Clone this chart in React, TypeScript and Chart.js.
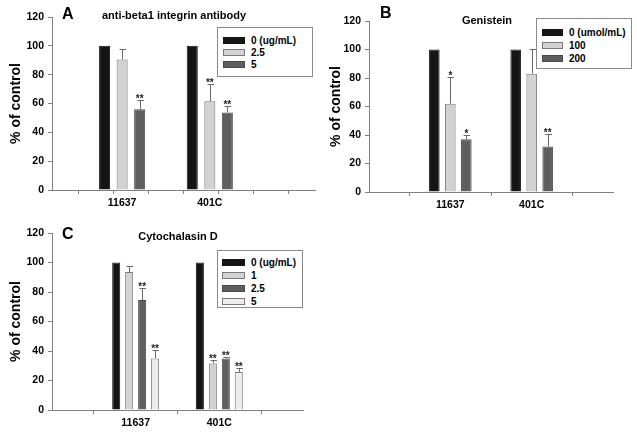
import React, { useEffect, useRef } from "react";
import { Chart, registerables } from "chart.js";

Chart.register(...registerables);

const FONT = "'Liberation Sans', Arial, Helvetica, sans-serif";

// ---------- shared ----------
const groups = ["11637", "401C"];
const yMax = 120;
const yStep = 20;
const yAxisTitle = "% of control";

// ---------- Panel A ----------
const aLetter = "A";
const aTitle = "anti-beta1 integrin antibody";
const aLabels = ["0 (ug/mL)", "2.5", "5"];
const aControl = [100, 100];
const aDose25 = [90.5, 61.5];
const aDose5 = [56, 53.8];
const aErr25 = [7, 12];
const aErr5 = [6.3, 4.4];
const aSig25 = ["", "**"];
const aSig5 = ["**", "**"];

// ---------- Panel B ----------
const bLetter = "B";
const bTitle = "Genistein";
const bLabels = ["0 (umol/mL)", "100", "200"];
const bControl = [100, 100];
const bDose100 = [62, 83];
const bDose200 = [37, 32];
const bErr100 = [19, 17];
const bErr200 = [3.3, 8.6];
const bSig100 = ["*", ""];
const bSig200 = ["*", "**"];

// ---------- Panel C ----------
const cLetter = "C";
const cTitle = "Cytochalasin D";
const cLabels = ["0 (ug/mL)", "1", "2.5", "5"];
const cControl = [100, 100];
const cDose1 = [93.5, 31.5];
const cDose25 = [74.5, 35];
const cDose5 = [35, 25.8];
const cErr1 = [4, 2.3];
const cErr25 = [8, 0.8];
const cErr5 = [6, 3];
const cSig1 = ["", "**"];
const cSig25 = ["**", "**"];
const cSig5 = ["**", "**"];

// ---------- colours ----------
const BLACK = "#151515";
const LIGHT = "#d2d2d2";
const DARK = "#5f5f5f";
const PALE = "#ececec";
const EDGE = "#7a7a7a";
const AXIS = "#808080";

type SeriesDef = {
  label: string;
  values: number[];
  errors?: number[];
  sig?: string[];
  fill: string;
  stroke: string;
};

const seriesA: SeriesDef[] = [
  { label: aLabels[0], values: aControl, fill: BLACK, stroke: BLACK },
  { label: aLabels[1], values: aDose25, errors: aErr25, sig: aSig25, fill: LIGHT, stroke: EDGE },
  { label: aLabels[2], values: aDose5, errors: aErr5, sig: aSig5, fill: DARK, stroke: "#4a4a4a" },
];
const seriesB: SeriesDef[] = [
  { label: bLabels[0], values: bControl, fill: BLACK, stroke: BLACK },
  { label: bLabels[1], values: bDose100, errors: bErr100, sig: bSig100, fill: LIGHT, stroke: EDGE },
  { label: bLabels[2], values: bDose200, errors: bErr200, sig: bSig200, fill: DARK, stroke: "#4a4a4a" },
];
const seriesC: SeriesDef[] = [
  { label: cLabels[0], values: cControl, fill: BLACK, stroke: BLACK },
  { label: cLabels[1], values: cDose1, errors: cErr1, sig: cSig1, fill: LIGHT, stroke: EDGE },
  { label: cLabels[2], values: cDose25, errors: cErr25, sig: cSig25, fill: DARK, stroke: "#4a4a4a" },
  { label: cLabels[3], values: cDose5, errors: cErr5, sig: cSig5, fill: PALE, stroke: EDGE },
];

// place the group values onto the slots of the category axis
function spread<T>(vals: T[] | undefined, slots: number, pos: number[], empty: T): T[] | undefined {
  if (!vals) return undefined;
  const out: T[] = new Array(slots).fill(empty);
  pos.forEach((p, i) => {
    out[p] = vals[i];
  });
  return out;
}

const errorBarPlugin = {
  id: "errorBars",
  afterDatasetsDraw(chart: any) {
    const ctx = chart.ctx;
    const yScale = chart.scales.y;
    chart.data.datasets.forEach((ds: any, di: number) => {
      if (!ds.errors && !ds.sig) return;
      const meta = chart.getDatasetMeta(di);
      meta.data.forEach((el: any, i: number) => {
        const v = ds.data[i];
        if (v == null) return;
        const e = ds.errors ? ds.errors[i] : null;
        let top = el.y;
        const x = Math.round(el.x) + 0.5;
        if (e != null && e > 0) {
          const yTop = Math.round(yScale.getPixelForValue(v + e)) + 0.5;
          ctx.save();
          ctx.strokeStyle = "#6a6a6a";
          ctx.lineWidth = 1;
          ctx.beginPath();
          ctx.moveTo(x, el.y);
          ctx.lineTo(x, yTop);
          ctx.moveTo(x - 3, yTop);
          ctx.lineTo(x + 3.5, yTop);
          ctx.stroke();
          ctx.restore();
          top = yTop;
        }
        const s = ds.sig ? ds.sig[i] : "";
        if (s) {
          ctx.save();
          ctx.fillStyle = "#222";
          ctx.font = `bold 10px ${FONT}`;
          ctx.textAlign = "center";
          ctx.textBaseline = "alphabetic";
          ctx.fillText(s, el.x, top + 1);
          ctx.restore();
        }
      });
    });
  },
};

type PanelProps = {
  left: number;
  top: number;
  width: number;
  height: number;
  yWidth: number;
  xHeight: number;
  padTop: number;
  padRight: number;
  series: SeriesDef[];
  slots: number;
  groupPos: number[];
  tickEvery: number;
  catPct: number;
  barPct: number;
};

function BarPanel(p: PanelProps) {
  const ref = useRef<HTMLCanvasElement>(null);
  useEffect(() => {
    const labels = spread(groups, p.slots, p.groupPos, "") as string[];
    const datasets: any[] = p.series.map((s) => ({
      label: s.label,
      data: spread<number | null>(s.values, p.slots, p.groupPos, null),
      backgroundColor: s.fill,
      borderColor: s.stroke,
      borderWidth: 1,
      errors: spread<number | null>(s.errors, p.slots, p.groupPos, null),
      sig: spread(s.sig, p.slots, p.groupPos, ""),
      categoryPercentage: p.catPct,
      barPercentage: p.barPct,
    }));
    const chart = new Chart(ref.current as HTMLCanvasElement, {
      type: "bar",
      data: { labels, datasets },
      options: {
        animation: false,
        responsive: false,
        maintainAspectRatio: false,
        layout: { padding: { top: p.padTop, right: p.padRight, left: 0, bottom: 0 } },
        plugins: { legend: { display: false }, tooltip: { enabled: false } },
        scales: {
          x: {
            type: "category",
            offset: false,
            grid: {
              display: true,
              drawOnChartArea: false,
              tickLength: 4,
              color: (c: any) => (c.index % p.tickEvery === 0 ? AXIS : "rgba(0,0,0,0)"),
            },
            border: { display: true, color: AXIS, width: 1 },
            ticks: {
              autoSkip: false,
              maxRotation: 0,
              padding: 3,
              color: "#000",
              font: { family: FONT, size: 10.5, weight: "bold" },
            },
            afterFit: (s: any) => {
              s.height = p.xHeight;
            },
          } as any,
          y: {
            min: 0,
            max: yMax,
            ticks: {
              stepSize: yStep,
              padding: 4,
              color: "#000",
              font: { family: FONT, size: 10.5, weight: "bold" },
            },
            grid: { display: true, drawOnChartArea: false, tickLength: 4, color: AXIS },
            border: { display: true, color: AXIS, width: 1 },
            title: {
              display: true,
              text: yAxisTitle,
              color: "#000",
              font: { family: FONT, size: 14, weight: "bold" },
              padding: { top: 8, bottom: 0 },
            },
            afterFit: (s: any) => {
              s.width = p.yWidth;
            },
          } as any,
        },
      },
      plugins: [errorBarPlugin],
    });
    return () => chart.destroy();
  }, []);
  return (
    <canvas
      ref={ref}
      width={p.width}
      height={p.height}
      style={{ position: "absolute", left: p.left, top: p.top, width: p.width, height: p.height }}
    />
  );
}

type LegendProps = {
  left: number;
  top: number;
  width: number;
  height: number;
  rowsY: number[];
  swatchLeft: number;
  swatchWidth: number;
  textLeft: number;
  series: SeriesDef[];
};

function Legend(l: LegendProps) {
  return (
    <div
      style={{
        position: "absolute",
        left: l.left,
        top: l.top,
        width: l.width,
        height: l.height,
        boxSizing: "border-box",
        border: "1px solid #8a8a8a",
        background: "#fff",
      }}
    >
      {l.series.map((s, i) => (
        <div key={i}>
          <div
            style={{
              position: "absolute",
              left: l.swatchLeft - l.left - 1,
              top: l.rowsY[i] - l.top - 1 - 3.5,
              width: l.swatchWidth,
              height: 7,
              boxSizing: "border-box",
              background: s.fill,
              border: `1px solid ${s.stroke}`,
            }}
          />
          <div
            style={{
              position: "absolute",
              left: l.textLeft - l.left - 1,
              top: l.rowsY[i] - l.top - 1 - 5.5,
              height: 11,
              lineHeight: "11px",
              fontFamily: FONT,
              fontWeight: "bold",
              fontSize: 10,
              color: "#000",
              whiteSpace: "nowrap",
            }}
          >
            {s.label}
          </div>
        </div>
      ))}
    </div>
  );
}

function Label(props: { text: string; x: number; baseline: number; size: number; center?: boolean }) {
  const { text, x, baseline, size, center } = props;
  return (
    <div
      style={{
        position: "absolute",
        left: x,
        top: baseline - 0.846 * size,
        transform: center ? "translateX(-50%)" : undefined,
        fontFamily: FONT,
        fontWeight: "bold",
        fontSize: size,
        lineHeight: 1,
        color: "#000",
        whiteSpace: "nowrap",
      }}
    >
      {text}
    </div>
  );
}

export default function App() {
  return (
    <div
      style={{
        position: "absolute",
        left: 0,
        top: 0,
        width: 637,
        height: 434,
        background: "#fff",
        overflow: "hidden",
      }}
    >
      <BarPanel
        left={0}
        top={0}
        width={320}
        height={215}
        yWidth={52}
        xHeight={25}
        padTop={17}
        padRight={5}
        series={seriesA}
        slots={16}
        groupPos={[4, 9]}
        tickEvery={2}
        catPct={3.0}
        barPct={0.63}
      />
      <BarPanel
        left={320}
        top={0}
        width={317}
        height={217}
        yWidth={49}
        xHeight={25}
        padTop={21}
        padRight={24}
        series={seriesB}
        slots={4}
        groupPos={[1, 2]}
        tickEvery={1}
        catPct={0.59}
        barPct={0.66}
      />
      <BarPanel
        left={0}
        top={210}
        width={320}
        height={224}
        yWidth={52}
        xHeight={24}
        padTop={23}
        padRight={17}
        series={seriesC}
        slots={4}
        groupPos={[1, 2]}
        tickEvery={1}
        catPct={0.62}
        barPct={0.62}
      />

      <Label text={aLetter} x={62} baseline={20} size={16} />
      <Label text={aTitle} x={174} baseline={19.5} size={11} center />
      <Label text={bLetter} x={380} baseline={18.5} size={16} />
      <Label text={bTitle} x={487} baseline={24} size={11} center />
      <Label text={cLetter} x={62} baseline={240} size={16} />
      <Label text={cTitle} x={178} baseline={240} size={11} center />

      <Legend
        left={217}
        top={27}
        width={96}
        height={50}
        rowsY={[40, 52, 64]}
        swatchLeft={223}
        swatchWidth={22}
        textLeft={251}
        series={seriesA}
      />
      <Legend
        left={536}
        top={18}
        width={96}
        height={51}
        rowsY={[32, 45, 58]}
        swatchLeft={542}
        swatchWidth={21}
        textLeft={569}
        series={seriesB}
      />
      <Legend
        left={217}
        top={250}
        width={86}
        height={58}
        rowsY={[262, 275, 288, 301]}
        swatchLeft={222}
        swatchWidth={23}
        textLeft={251}
        series={seriesC}
      />
    </div>
  );
}
